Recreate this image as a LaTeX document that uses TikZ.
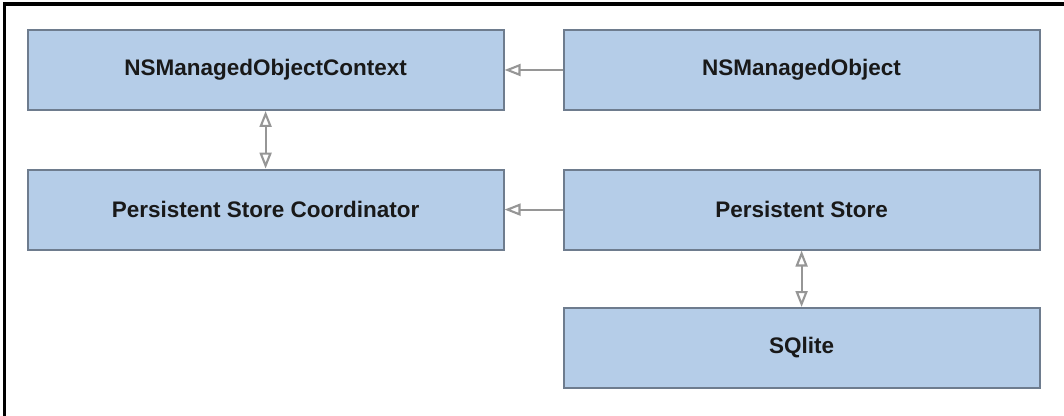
\documentclass[tikz,border=0pt]{standalone}
\usepackage{fontspec}
\setmainfont{Liberation Sans}
\usetikzlibrary{arrows.meta}
\definecolor{boxfill}{RGB}{181,205,232}
\definecolor{boxline}{RGB}{110,124,142}
\definecolor{linkgray}{RGB}{150,150,150}

\begin{document}
\begin{tikzpicture}[
    >={Triangle[open,length=4mm,width=3mm]},
    every node/.style={rectangle, draw=boxline, fill=boxfill, line width=1.4pt,
      minimum width=11.9cm, minimum height=2cm, inner sep=0pt,
      text=black!90, font=\fontsize{16}{19}\selectfont\bfseries},
    link/.style={draw=linkgray, line width=1.5pt}
]
  \useasboundingbox (0,0) rectangle (26.6,10.4);
  % frame
  \draw[line width=2.2pt] (0.12,0) -- (0.12,10.3) -- (26.6,10.3);

  % nodes
  \node (ctx) at (6.64,8.65)  {NSManagedObjectContext};
  \node (obj) at (20.04,8.65) {NSManagedObject};
  \node (psc) at (6.64,5.16)  {Persistent Store Coordinator};
  \node (ps)  at (20.04,5.16) {Persistent Store};
  \node (sql) at (20.04,1.7)  {SQlite};

  % edges
  \draw[link,->] (obj) -- (ctx);
  \draw[link,->] (ps) -- (psc);
  \draw[link,<->] (ctx) -- (psc);
  \draw[link,<->] (ps) -- (sql);
\end{tikzpicture}
\end{document}
